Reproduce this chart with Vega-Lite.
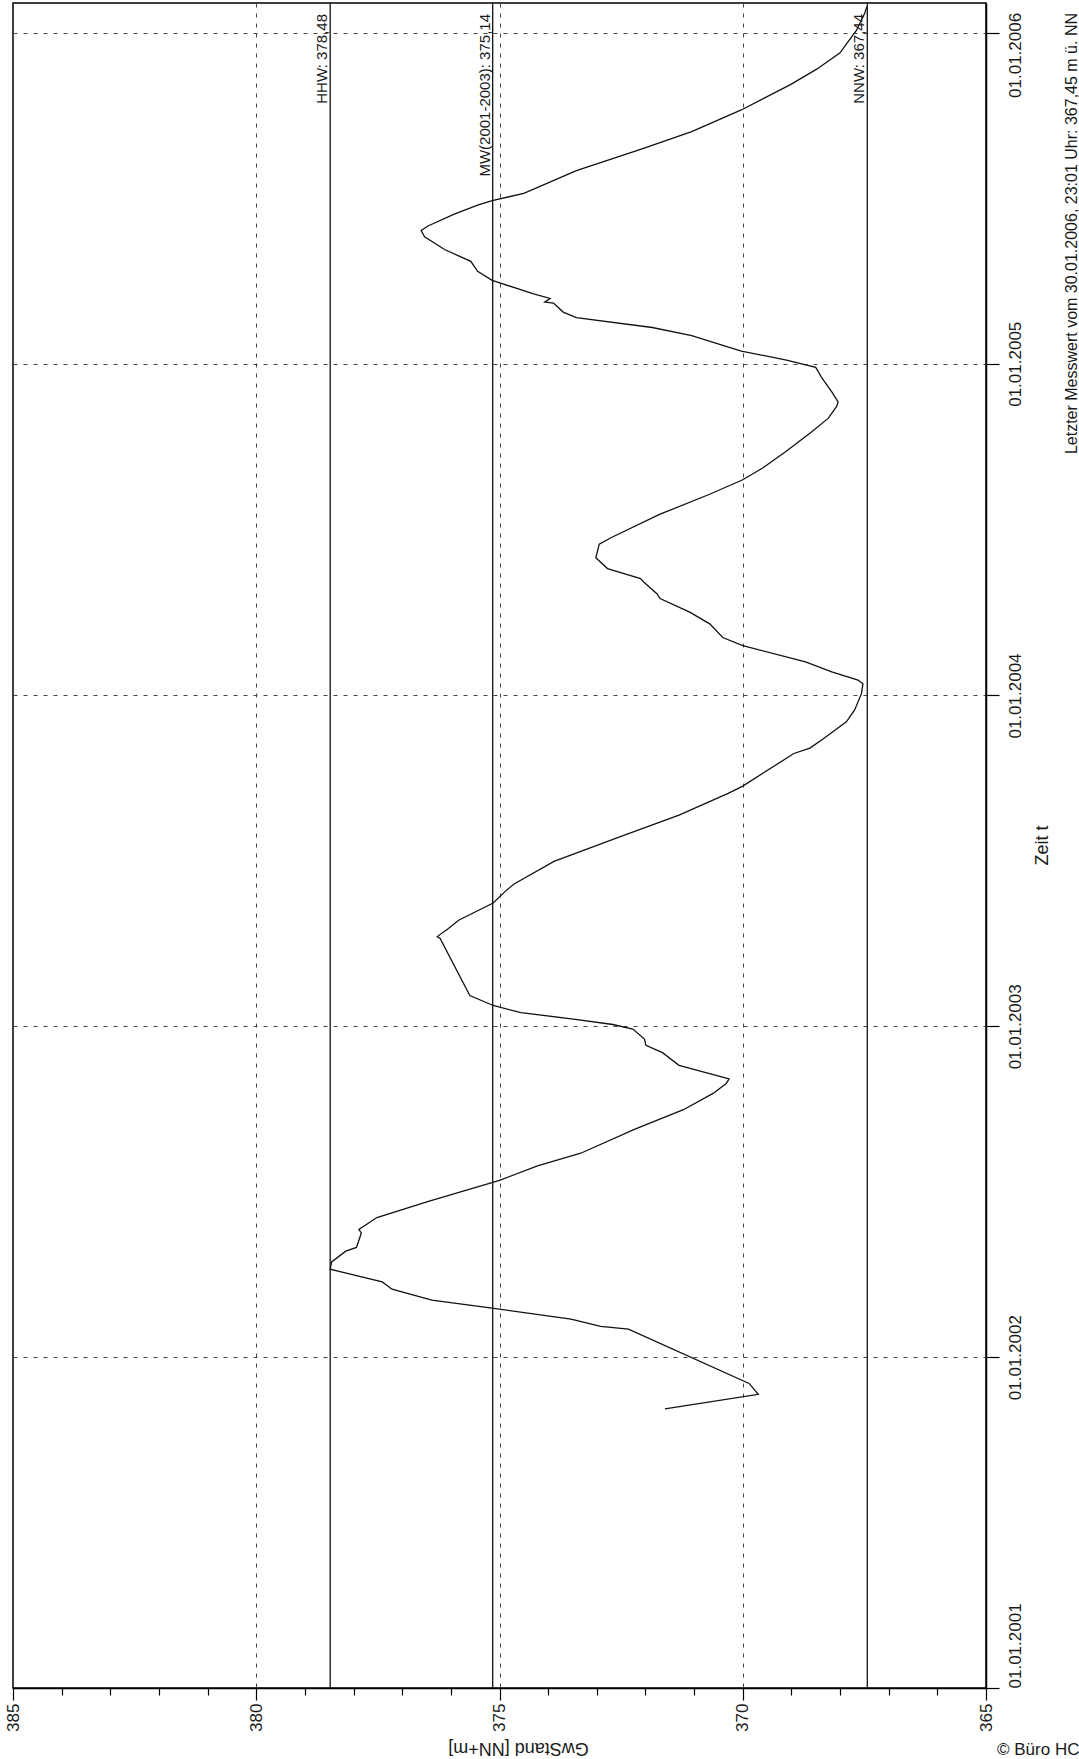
{
  "$schema": "https://vega.github.io/schema/vega-lite/v6.json",
  "width": 973,
  "height": 1685,
  "autosize": {"type": "none"},
  "padding": {"left": 13, "top": 3, "right": 93, "bottom": 71},
  "background": "white",
  "config": {
    "view": {"stroke": "black", "strokeWidth": 1.5},
    "font": "Liberation Sans"
  },
  "layer": [
    {
      "data": {
        "values": [
          {"Datum": "2001-11-05", "GwStand": 371.60},
          {"Datum": "2001-11-21", "GwStand": 369.68},
          {"Datum": "2001-12-03", "GwStand": 369.87},
          {"Datum": "2002-02-01", "GwStand": 372.35},
          {"Datum": "2002-02-04", "GwStand": 372.92},
          {"Datum": "2002-02-12", "GwStand": 373.53},
          {"Datum": "2002-02-23", "GwStand": 375.00},
          {"Datum": "2002-03-05", "GwStand": 376.39},
          {"Datum": "2002-03-17", "GwStand": 377.21},
          {"Datum": "2002-03-25", "GwStand": 377.41},
          {"Datum": "2002-04-08", "GwStand": 378.48},
          {"Datum": "2002-04-16", "GwStand": 378.45},
          {"Datum": "2002-04-28", "GwStand": 378.16},
          {"Datum": "2002-05-02", "GwStand": 377.94},
          {"Datum": "2002-05-18", "GwStand": 377.84},
          {"Datum": "2002-05-22", "GwStand": 377.89},
          {"Datum": "2002-06-04", "GwStand": 377.52},
          {"Datum": "2002-06-22", "GwStand": 376.46},
          {"Datum": "2002-07-15", "GwStand": 375.00},
          {"Datum": "2002-07-31", "GwStand": 374.22},
          {"Datum": "2002-08-14", "GwStand": 373.33},
          {"Datum": "2002-09-09", "GwStand": 372.24},
          {"Datum": "2002-10-01", "GwStand": 371.22},
          {"Datum": "2002-10-19", "GwStand": 370.61},
          {"Datum": "2002-10-30", "GwStand": 370.34},
          {"Datum": "2002-11-04", "GwStand": 370.28},
          {"Datum": "2002-11-19", "GwStand": 371.31},
          {"Datum": "2002-12-03", "GwStand": 371.65},
          {"Datum": "2002-12-11", "GwStand": 371.99},
          {"Datum": "2002-12-18", "GwStand": 372.02},
          {"Datum": "2002-12-29", "GwStand": 372.26},
          {"Datum": "2003-01-03", "GwStand": 372.67},
          {"Datum": "2003-01-09", "GwStand": 373.48},
          {"Datum": "2003-01-16", "GwStand": 374.56},
          {"Datum": "2003-01-24", "GwStand": 375.13},
          {"Datum": "2003-02-04", "GwStand": 375.61},
          {"Datum": "2003-04-08", "GwStand": 376.22},
          {"Datum": "2003-04-10", "GwStand": 376.28},
          {"Datum": "2003-04-19", "GwStand": 376.05},
          {"Datum": "2003-04-28", "GwStand": 375.84},
          {"Datum": "2003-05-17", "GwStand": 375.13},
          {"Datum": "2003-05-31", "GwStand": 374.86},
          {"Datum": "2003-06-07", "GwStand": 374.70},
          {"Datum": "2003-07-02", "GwStand": 373.88},
          {"Datum": "2003-07-29", "GwStand": 372.53},
          {"Datum": "2003-08-22", "GwStand": 371.31},
          {"Datum": "2003-09-15", "GwStand": 370.30},
          {"Datum": "2003-09-23", "GwStand": 370.00},
          {"Datum": "2003-10-29", "GwStand": 368.95},
          {"Datum": "2003-11-04", "GwStand": 368.62},
          {"Datum": "2003-11-14", "GwStand": 368.35},
          {"Datum": "2003-12-03", "GwStand": 367.87},
          {"Datum": "2003-12-16", "GwStand": 367.70},
          {"Datum": "2004-01-03", "GwStand": 367.56},
          {"Datum": "2004-01-14", "GwStand": 367.53},
          {"Datum": "2004-01-18", "GwStand": 367.63},
          {"Datum": "2004-01-27", "GwStand": 368.17},
          {"Datum": "2004-02-07", "GwStand": 368.71},
          {"Datum": "2004-02-25", "GwStand": 370.00},
          {"Datum": "2004-03-05", "GwStand": 370.41},
          {"Datum": "2004-03-20", "GwStand": 370.68},
          {"Datum": "2004-04-02", "GwStand": 371.09},
          {"Datum": "2004-04-17", "GwStand": 371.70},
          {"Datum": "2004-04-22", "GwStand": 371.76},
          {"Datum": "2004-05-05", "GwStand": 372.03},
          {"Datum": "2004-05-09", "GwStand": 372.10},
          {"Datum": "2004-05-20", "GwStand": 372.78},
          {"Datum": "2004-06-01", "GwStand": 373.02},
          {"Datum": "2004-06-16", "GwStand": 372.95},
          {"Datum": "2004-06-23", "GwStand": 372.71},
          {"Datum": "2004-07-19", "GwStand": 371.70},
          {"Datum": "2004-08-10", "GwStand": 370.68},
          {"Datum": "2004-08-26", "GwStand": 370.00},
          {"Datum": "2004-09-08", "GwStand": 369.59},
          {"Datum": "2004-09-26", "GwStand": 369.12},
          {"Datum": "2004-10-18", "GwStand": 368.58},
          {"Datum": "2004-11-02", "GwStand": 368.24},
          {"Datum": "2004-11-15", "GwStand": 368.07},
          {"Datum": "2004-11-20", "GwStand": 368.04},
          {"Datum": "2004-12-01", "GwStand": 368.17},
          {"Datum": "2004-12-16", "GwStand": 368.37},
          {"Datum": "2004-12-28", "GwStand": 368.50},
          {"Datum": "2005-01-05", "GwStand": 369.10},
          {"Datum": "2005-01-15", "GwStand": 370.03},
          {"Datum": "2005-02-01", "GwStand": 371.05},
          {"Datum": "2005-02-10", "GwStand": 371.86},
          {"Datum": "2005-02-21", "GwStand": 373.42},
          {"Datum": "2005-02-27", "GwStand": 373.69},
          {"Datum": "2005-03-09", "GwStand": 373.89},
          {"Datum": "2005-03-10", "GwStand": 374.07},
          {"Datum": "2005-03-14", "GwStand": 373.96},
          {"Datum": "2005-03-19", "GwStand": 374.30},
          {"Datum": "2005-04-03", "GwStand": 375.15},
          {"Datum": "2005-04-13", "GwStand": 375.45},
          {"Datum": "2005-04-24", "GwStand": 375.59},
          {"Datum": "2005-05-07", "GwStand": 376.13},
          {"Datum": "2005-05-21", "GwStand": 376.54},
          {"Datum": "2005-05-28", "GwStand": 376.61},
          {"Datum": "2005-06-02", "GwStand": 376.47},
          {"Datum": "2005-06-15", "GwStand": 375.93},
          {"Datum": "2005-06-25", "GwStand": 375.45},
          {"Datum": "2005-06-30", "GwStand": 375.15},
          {"Datum": "2005-07-08", "GwStand": 374.50},
          {"Datum": "2005-08-02", "GwStand": 373.42},
          {"Datum": "2005-08-26", "GwStand": 372.07},
          {"Datum": "2005-09-14", "GwStand": 371.05},
          {"Datum": "2005-10-08", "GwStand": 370.03},
          {"Datum": "2005-11-05", "GwStand": 369.02},
          {"Datum": "2005-11-22", "GwStand": 368.48},
          {"Datum": "2005-12-10", "GwStand": 368.00},
          {"Datum": "2005-12-27", "GwStand": 367.77},
          {"Datum": "2006-01-04", "GwStand": 367.66},
          {"Datum": "2006-01-23", "GwStand": 367.49},
          {"Datum": "2006-01-30", "GwStand": 367.45}
        ]
      },
      "mark": {"type": "line", "color": "#111111", "strokeWidth": 1.3},
      "encoding": {
        "x": {
          "field": "GwStand",
          "type": "quantitative",
          "scale": {"domain": [365, 385], "reverse": true, "nice": false, "zero": false},
          "axis": {
            "values": [365, 366, 367, 368, 369, 370, 371, 372, 373, 374, 375, 376, 377, 378, 379, 380, 381, 382, 383, 384, 385],
            "format": "d",
            "labelExpr": "datum.value % 5 === 0 ? datum.label : ''",
            "labelOverlap": false,
            "labelAngle": 270,
            "labelAlign": "right",
            "labelBaseline": "middle",
            "labelPadding": 3,
            "labelFontSize": 17,
            "labelColor": "#1a1a1a",
            "tickColor": "black",
            "tickWidth": 1.2,
            "tickSize": {"condition": {"test": "datum.value % 5 === 0", "value": 12}, "value": 7},
            "domainColor": "black",
            "domainWidth": 1.5,
            "grid": true,
            "gridColor": "#444444",
            "gridDash": [4, 6],
            "gridWidth": 1,
            "gridOpacity": {"condition": {"test": "datum.value % 5 === 0 && datum.value > 365 && datum.value < 385", "value": 1}, "value": 0},
            "title": "GwStand [NN+m]",
            "titleAngle": 180,
            "titleAlign": "center",
            "titleBaseline": "middle",
            "titleX": 505,
            "titleY": 59,
            "titleFontSize": 18,
            "titleFontWeight": "normal",
            "titleColor": "#1a1a1a"
          }
        },
        "y": {
          "field": "Datum",
          "type": "temporal",
          "scale": {
            "type": "utc",
            "domain": [
              {"year": 2001, "month": 1, "date": 1, "utc": true},
              {"year": 2006, "month": 2, "date": 3, "utc": true}
            ],
            "nice": false
          },
          "axis": {
            "orient": "right",
            "values": [
              {"year": 2001, "month": 1, "date": 1, "utc": true},
              {"year": 2002, "month": 1, "date": 1, "utc": true},
              {"year": 2003, "month": 1, "date": 1, "utc": true},
              {"year": 2004, "month": 1, "date": 1, "utc": true},
              {"year": 2005, "month": 1, "date": 1, "utc": true},
              {"year": 2006, "month": 1, "date": 1, "utc": true}
            ],
            "format": "%d.%m.%Y",
            "labelOverlap": false,
            "labelAngle": 270,
            "labelAlign": {"condition": {"test": "utcyear(datum.value) === 2001", "value": "left"}, "value": "center"},
            "labelOffset": {"condition": {"test": "utcyear(datum.value) === 2006", "value": 22}, "value": 0},
            "labelBaseline": "top",
            "labelPadding": 8,
            "labelFontSize": 17,
            "labelColor": "#1a1a1a",
            "tickColor": "black",
            "tickWidth": 1.2,
            "tickSize": 13,
            "domainColor": "black",
            "domainWidth": 1.5,
            "grid": true,
            "gridColor": "#444444",
            "gridDash": [4, 6],
            "gridWidth": 1,
            "gridOpacity": {"condition": {"test": "utcyear(datum.value) > 2001", "value": 1}, "value": 0},
            "title": "Zeit t",
            "titleAngle": 270,
            "titleAlign": "center",
            "titleBaseline": "middle",
            "titleX": 56,
            "titleY": 842,
            "titleFontSize": 18,
            "titleFontWeight": "normal",
            "titleColor": "#1a1a1a"
          }
        }
      }
    },
    {
      "data": {
        "values": [
          {"Kennwert": "HHW: 378,48", "Wert": 378.48},
          {"Kennwert": "MW(2001-2003): 375,14", "Wert": 375.14},
          {"Kennwert": "NNW: 367,44", "Wert": 367.44}
        ]
      },
      "layer": [
        {
          "mark": {"type": "rule", "color": "#111111", "strokeWidth": 1.3},
          "encoding": {
            "x": {
              "field": "Wert",
              "type": "quantitative",
              "scale": {"domain": [365, 385], "reverse": true, "nice": false, "zero": false}
            }
          }
        },
        {
          "mark": {
            "type": "text",
            "angle": 270,
            "align": "right",
            "baseline": "alphabetic",
            "dx": -11,
            "dy": -3,
            "fontSize": 15,
            "color": "#1a1a1a"
          },
          "encoding": {
            "x": {
              "field": "Wert",
              "type": "quantitative",
              "scale": {"domain": [365, 385], "reverse": true, "nice": false, "zero": false}
            },
            "y": {
              "datum": {"year": 2006, "month": 2, "date": 3, "utc": true},
              "type": "temporal",
              "scale": {
                "type": "utc",
                "domain": [
                  {"year": 2001, "month": 1, "date": 1, "utc": true},
                  {"year": 2006, "month": 2, "date": 3, "utc": true}
                ],
                "nice": false
              }
            },
            "text": {"field": "Kennwert", "type": "nominal"}
          }
        }
      ]
    },
    {
      "data": {
        "values": [
          {"Hinweis": "Letzter Messwert vom 30.01.2006, 23:01 Uhr: 367,45 m ü. NN"}
        ]
      },
      "mark": {
        "type": "text",
        "angle": 270,
        "align": "right",
        "baseline": "top",
        "dx": -10,
        "dy": 78,
        "fontSize": 16,
        "color": "#1a1a1a"
      },
      "encoding": {
        "x": {
          "datum": 365,
          "type": "quantitative",
          "scale": {"domain": [365, 385], "reverse": true, "nice": false, "zero": false}
        },
        "y": {
          "datum": {"year": 2006, "month": 2, "date": 3, "utc": true},
          "type": "temporal",
          "scale": {
            "type": "utc",
            "domain": [
              {"year": 2001, "month": 1, "date": 1, "utc": true},
              {"year": 2006, "month": 2, "date": 3, "utc": true}
            ],
            "nice": false
          }
        },
        "text": {"field": "Hinweis", "type": "nominal"}
      }
    },
    {
      "data": {"values": [{"Vermerk": "© Büro HC"}]},
      "mark": {
        "type": "text",
        "align": "left",
        "baseline": "middle",
        "dx": 11,
        "dy": 62,
        "fontSize": 17,
        "color": "#1a1a1a"
      },
      "encoding": {
        "x": {
          "datum": 365,
          "type": "quantitative",
          "scale": {"domain": [365, 385], "reverse": true, "nice": false, "zero": false}
        },
        "y": {
          "datum": {"year": 2001, "month": 1, "date": 1, "utc": true},
          "type": "temporal",
          "scale": {
            "type": "utc",
            "domain": [
              {"year": 2001, "month": 1, "date": 1, "utc": true},
              {"year": 2006, "month": 2, "date": 3, "utc": true}
            ],
            "nice": false
          }
        },
        "text": {"field": "Vermerk", "type": "nominal"}
      }
    }
  ]
}
